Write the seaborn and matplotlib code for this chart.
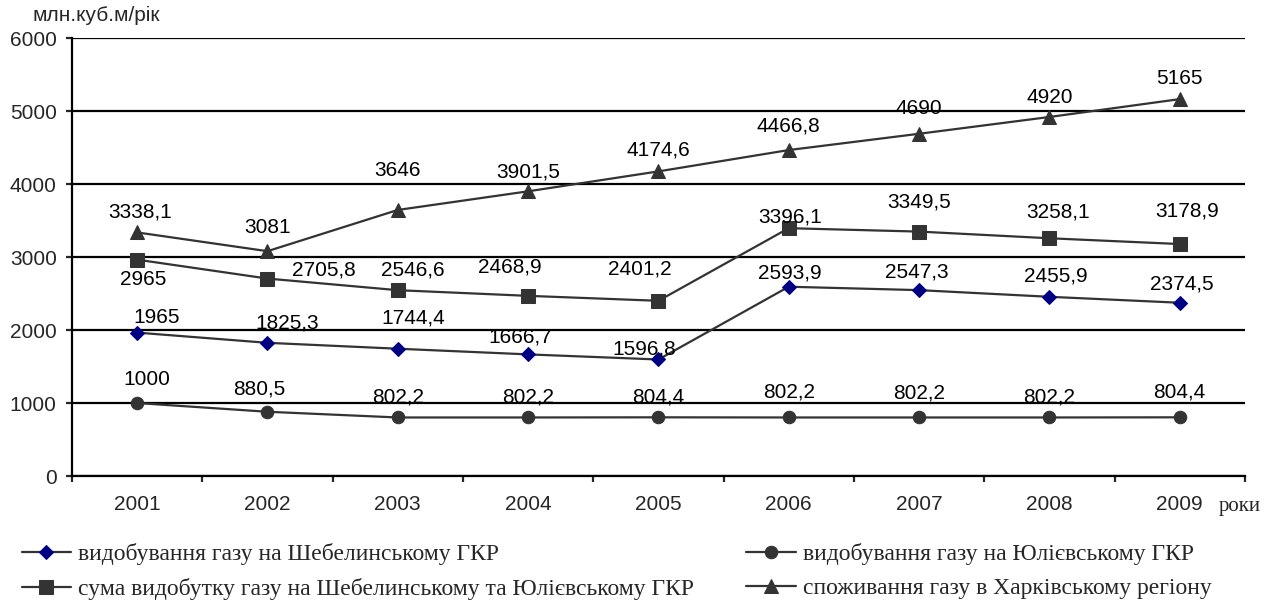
import pandas as pd
import matplotlib.pyplot as plt
import seaborn as sns
from matplotlib.ticker import FixedLocator

# дані
years = ['2001', '2002', '2003', '2004', '2005', '2006', '2007', '2008', '2009']
shebelynka = [1965, 1825.3, 1744.4, 1666.7, 1596.8, 2593.9, 2547.3, 2455.9, 2374.5]
yulivka = [1000, 880.5, 802.2, 802.2, 804.4, 802.2, 802.2, 802.2, 804.4]
suma = [2965, 2705.8, 2546.6, 2468.9, 2401.2, 3396.1, 3349.5, 3258.1, 3178.9]
spozhyvannia = [3338.1, 3081, 3646, 3901.5, 4174.6, 4466.8, 4690, 4920, 5165]

names = ['видобування газу на Шебелинському ГКР',
         'сума видобутку газу на Шебелинському та Юлієвському ГКР',
         'видобування газу на Юлієвському ГКР',
         'споживання газу в Харківському регіону']

# зсуви підписів (пікселі)
off_sheb = [(20, 15), (20, 20), (15, 31), (-8, 17), (-14, 10), (1, 14), (-2, 18), (6, 21), (2, 19)]
off_yul = [(10, 24), (-8, 23), (0, 20), (0, 20), (0, 20), (0, 25), (0, 24), (0, 20), (0, 25)]
off_suma = [(6, -20), (56, 9), (15, 20), (-18, 29), (-19, 32), (1, 11), (0, 30), (9, 26), (7, 33)]
off_spoz = [(3, 20), (0, 24), (0, 39), (0, 19), (0, 21), (0, 24), (0, 25), (0, 19), (0, 21)]

sns.set_style('white')
plt.rcParams['font.family'] = ['Liberation Sans', 'DejaVu Sans']

x = list(range(len(years)))
df = pd.DataFrame({'x': x, 'sheb': shebelynka, 'yul': yulivka, 'suma': suma, 'spoz': spozhyvannia})

fig = plt.figure(figsize=(12.69, 6.06), dpi=100)
ax = fig.add_axes([0.0567, 0.2145, 0.9243, 0.7225])

line_c = '#333333'
series = [
    ('sheb', names[0], 'D', '#000080', 7.5, off_sheb),
    ('suma', names[1], 's', line_c, 10, off_suma),
    ('yul', names[2], 'o', line_c, 9, off_yul),
    ('spoz', names[3], '^', line_c, 10, off_spoz),
]

for col, name, mk, mc, ms, offs in series:
    sns.lineplot(data=df, x='x', y=col, ax=ax, color=line_c, linewidth=1.6,
                 marker=mk, markersize=ms, markerfacecolor=mc, markeredgecolor=mc,
                 label=name, zorder=3)
    for xi, v, (dx, dy) in zip(x, df[col], offs):
        txt = f'{v:g}'.replace('.', ',')
        ax.annotate(txt, (xi, v), xytext=(dx, dy), textcoords='offset pixels',
                    ha='center', va='center', fontsize=15, color='black', zorder=4)

h, l = ax.get_legend_handles_labels()
ax.get_legend().remove()

ax.set_xlim(-0.5, 8.5)
ax.set_ylim(0, 6000)
ax.set_yticks(range(0, 6001, 1000))
ax.yaxis.grid(True, color='black', linewidth=1.6)
ax.set_axisbelow(True)
ax.set_xticks(x)
ax.set_xticklabels(years)
ax.xaxis.set_minor_locator(FixedLocator([i - 0.5 for i in range(len(years) + 1)]))
ax.tick_params(axis='x', which='major', length=0, pad=14, labelsize=15)
ax.tick_params(axis='x', which='minor', length=4, width=1.6, direction='out', bottom=True)
ax.tick_params(axis='y', length=4, width=1.6, direction='out', left=True, labelsize=15, pad=7)
for s in ['top', 'right']:
    ax.spines[s].set_visible(False)
for s in ['left', 'bottom']:
    ax.spines[s].set_color('black')
    ax.spines[s].set_linewidth(1.6)
ax.set_xlabel('')
ax.set_ylabel('')

fig.text(0.026, 0.975, 'млн.куб.м/рік', fontsize=15, va='center', ha='left')
fig.text(0.96, 0.165, 'роки', fontsize=15, va='center', ha='left', family='Liberation Serif')

leg_kw = dict(frameon=False, handlelength=2.1, handletextpad=0.3, labelspacing=0.55,
              borderpad=0, borderaxespad=0,
              prop={'family': 'Liberation Serif', 'size': 17})
fig.legend([h[0], h[1]], [l[0], l[1]], loc='upper left', bbox_to_anchor=(0.017, 0.104), **leg_kw)
fig.legend([h[2], h[3]], [l[2], l[3]], loc='upper left', bbox_to_anchor=(0.588, 0.104), **leg_kw)

fig.savefig('out.png', dpi=100)
